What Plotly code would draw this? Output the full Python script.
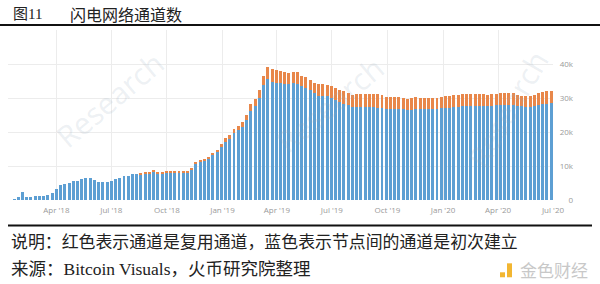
import pandas as pd
import plotly.graph_objects as go

# weekly snapshots (thousands of channels)
start_date = "2018-01-21"
n_weeks = 128

blue_k = [
    0.2, 1.0, 2.3, 1.0, 0.9, 1.1, 1.2, 1.2, 1.6, 2.2,
    3.3, 4.3, 4.8, 5.1, 5.5, 5.6, 6.1, 6.4, 6.5, 5.8,
    5.3, 5.2, 5.3, 5.6, 6.1, 6.4, 7.0, 7.2, 7.6, 7.7,
    7.5, 7.7, 7.9, 8.3, 7.9, 7.7, 8.0, 8.2, 8.1, 8.1,
    8.1, 8.1, 9.0, 10.8, 11.4, 11.5, 12.0, 13.1, 14.0, 15.6,
    17.2, 17.9, 19.7, 20.6, 21.5, 23.4, 26.3, 27.7, 30.1, 33.7,
    35.7, 34.8, 34.4, 34.36, 34.07, 34.07, 34.36, 34.17, 33.39, 32.90,
    32.21, 31.43, 30.65, 30.65, 30.45, 29.96, 29.47, 28.89, 28.30, 27.81,
    27.32, 27.23, 27.23, 27.23, 27.23, 27.23, 27.13, 27.03, 26.74, 26.64,
    26.74, 26.74, 26.64, 26.54, 26.54, 26.64, 26.64, 26.74, 26.74, 26.74,
    26.84, 26.93, 27.03, 27.13, 27.32, 27.42, 27.52, 27.52, 27.62, 27.71,
    27.71, 27.71, 27.71, 27.71, 27.81, 27.81, 27.81, 27.81, 27.81, 27.62,
    27.52, 27.23, 27.32, 27.62, 28.01, 28.21, 28.30, 28.50,
]
orange_k = [
    0.0, 0.0, 0.0, 0.0, 0.0, 0.0, 0.0, 0.0, 0.0, 0.0,
    0.0, 0.0, 0.0, 0.0, 0.0, 0.0, 0.0, 0.0, 0.0, 0.0,
    0.0, 0.0, 0.0, 0.0, 0.0, 0.0, 0.0, 0.0, 0.0, 0.0,
    0.3, 0.3, 0.3, 0.3, 0.3, 0.3, 0.3, 0.3, 0.3, 0.3,
    0.3, 0.3, 0.4, 0.5, 0.5, 0.6, 0.6, 0.7, 0.8, 0.9,
    1.0, 1.1, 1.2, 1.3, 1.4, 1.6, 1.8, 2.0, 2.3, 2.8,
    3.3, 3.6, 3.7, 3.62, 3.62, 3.42, 3.33, 3.42, 3.12, 3.22,
    3.13, 3.13, 3.42, 3.42, 3.33, 3.43, 3.33, 3.32, 3.62, 3.62,
    3.62, 3.91, 4.00, 3.91, 3.91, 3.91, 3.91, 3.81, 3.52, 3.52,
    3.52, 3.52, 3.42, 3.23, 3.33, 3.52, 3.42, 3.32, 3.22, 3.22,
    3.22, 3.33, 3.42, 3.52, 3.52, 3.52, 3.52, 3.52, 3.52, 3.52,
    3.52, 3.33, 3.23, 3.33, 3.42, 3.52, 3.52, 3.52, 3.52, 3.32,
    3.13, 3.22, 3.33, 3.32, 3.42, 3.51, 3.62, 3.61,
]

x_ticks_fmt = "%b '%y"
title_num = "图11"
title_text = "闪电网络通道数"
note_text = "说明：红色表示通道是复用通道，蓝色表示节点间的通道是初次建立"
source_text = "来源：Bitcoin Visuals，火币研究院整理"

dates = pd.date_range(start_date, periods=n_weeks, freq="7D")
blue = [v * 1000 for v in blue_k]
orange = [v * 1000 for v in orange_k]

fig = go.Figure()
fig.add_trace(go.Bar(x=dates, y=blue, marker=dict(color="#5d9fd3", line=dict(width=0)), name="new"))
fig.add_trace(go.Bar(x=dates, y=orange, marker=dict(color="#e8874a", line=dict(width=0)), name="reused"))

W, H = 600, 284
ml, mr, mt, mb = 8, 27, 30, 83.5
pw = W - ml - mr
x_dom_end = (553 - ml) / pw

fig.update_layout(
    width=W, height=H,
    margin=dict(l=ml, r=mr, t=mt, b=mb, pad=0),
    barmode="stack", bargap=0.3,
    showlegend=False,
    plot_bgcolor="white", paper_bgcolor="white",
    font=dict(family="Open Sans", color="#9a9a9a", size=8),
    xaxis=dict(
        domain=[0, x_dom_end],
        type="date",
        range=["2018-01-11", "2020-07-01"],
        dtick="M3", tick0="2018-01-01", tickformat=x_ticks_fmt,
        showgrid=True, gridcolor="#ececec", gridwidth=1,
        showline=False, zeroline=False, ticks="",
        tickfont=dict(size=8, color="#9a9a9a"),
        ticklabelstandoff=4,
    ),
    yaxis=dict(
        range=[0, 50000],
        tickvals=[0, 10000, 20000, 30000, 40000],
        ticktext=["0", "10k", "20k", "30k", "40k"],
        anchor="free", position=1.0, side="left",
        showgrid=True, gridcolor="#ececec", gridwidth=1,
        zeroline=False, showline=False, ticks="",
        tickfont=dict(size=8, color="#9a9a9a"),
        ticklabelstandoff=0,
    ),
)

def px_x(x):
    return (x - ml) / pw

def px_y(y):
    return (H - mb - y) / (H - mt - mb)

# header / footer rules
fig.add_shape(type="line", xref="paper", yref="paper",
              x0=px_x(0), x1=px_x(600), y0=px_y(25), y1=px_y(25),
              line=dict(color="#111111", width=2))
fig.add_shape(type="line", xref="paper", yref="paper",
              x0=px_x(8), x1=px_x(592), y0=px_y(226), y1=px_y(226),
              line=dict(color="#111111", width=2))

cjk = "Noto Sans CJK SC"
mixed = "Liberation Serif, Noto Sans CJK SC"
fig.add_annotation(xref="paper", yref="paper", x=px_x(11), y=px_y(14), xanchor="left", yanchor="middle",
                   text=title_num, showarrow=False, font=dict(family=mixed, size=15, color="#222222"))
fig.add_annotation(xref="paper", yref="paper", x=px_x(68), y=px_y(14), xanchor="left", yanchor="middle",
                   text=title_text, showarrow=False, font=dict(family=cjk, size=16, color="#222222"))
fig.add_annotation(xref="paper", yref="paper", x=px_x(9), y=px_y(241), xanchor="left", yanchor="middle",
                   text=note_text, showarrow=False, font=dict(family=cjk, size=16.9, color="#222222"))
fig.add_annotation(xref="paper", yref="paper", x=px_x(9), y=px_y(270), xanchor="left", yanchor="middle",
                   text=source_text, showarrow=False, font=dict(family=mixed, size=17.5, color="#222222"))

# logo watermark bottom-right
fig.add_shape(type="rect", xref="paper", yref="paper",
              x0=px_x(500), x1=px_x(505), y0=px_y(278), y1=px_y(273),
              fillcolor="#f2b632", line=dict(width=0))
fig.add_shape(type="rect", xref="paper", yref="paper",
              x0=px_x(507), x1=px_x(512), y0=px_y(278), y1=px_y(264),
              fillcolor="#f2b632", line=dict(width=0))
fig.add_annotation(xref="paper", yref="paper", x=px_x(518), y=px_y(270), xanchor="left", yanchor="middle",
                   text="金色财经", showarrow=False, font=dict(family=cjk, size=17, color="#c8c8c8"))

# faint diagonal watermarks
for (wx, wy, ang) in [(45, 160, -40), (330, 165, -40), (560, 110, -60)]:
    fig.add_annotation(xref="paper", yref="paper", x=px_x(wx), y=px_y(wy), textangle=ang,
                       text="Research", showarrow=False,
                       font=dict(family="Open Sans", size=30, color="rgba(150,170,190,0.18)"))

fig.write_html("out.html")
